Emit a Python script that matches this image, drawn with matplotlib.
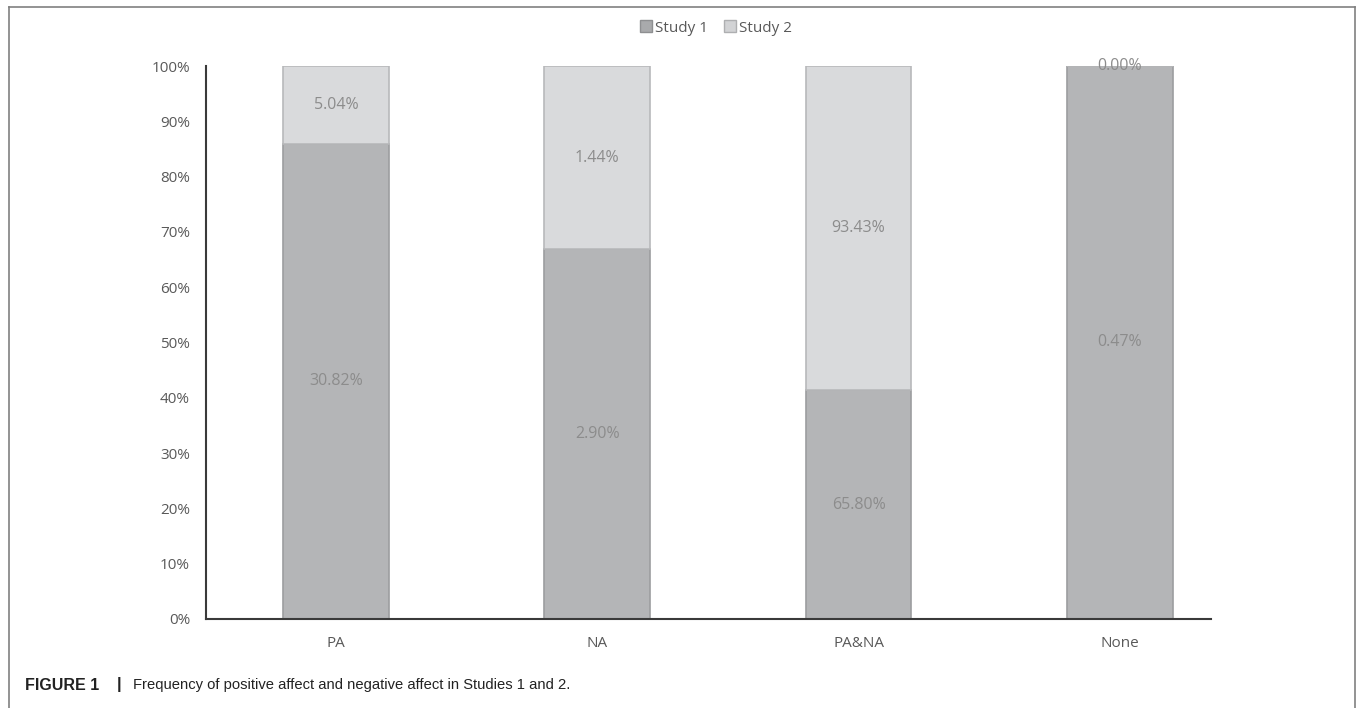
import matplotlib
matplotlib.use("Agg")
import matplotlib.pyplot as plt
import numpy as np
from matplotlib.patches import Rectangle
from matplotlib.lines import Line2D

#----------------- data
categories = ["PA", "NA", "PA&NA", "None"]
study1 = [30.82, 2.90, 65.80, 0.47]   # [%] labels shown in bars
study2 = [5.04, 1.44, 93.43, 0.00]
series_names = ["Study 1", "Study 2"]
yticks = [0, 10, 20, 30, 40, 50, 60, 70, 80, 90, 100]

#----------------- style
c1 = "#b4b5b7"
c2 = "#d9dadc"
edge = "#9c9d9f"
txt = "#8c8c8c"
tick_col = "#595959"
plt.rcParams['font.family'] = ['Open Sans', 'DejaVu Sans']

s1 = np.array(study1)
s2 = np.array(study2)
tot = s1 + s2
p1 = s1 / tot * 100
p2 = s2 / tot * 100
x = np.arange(len(categories))

fig = plt.figure(figsize=(13.57, 7.08), dpi=100)
ax = fig.add_axes([206/1357, 1-619/708, 1005/1357, 553/708])

w = 0.405
ax.bar(x, p1, w, color=c1, edgecolor=edge, linewidth=1.2, label=series_names[0])
ax.bar(x, p2, w, bottom=p1, color=c2, edgecolor="#b8b9bb", linewidth=1.2, label=series_names[1])

for i in range(len(categories)):
    ax.text(x[i], p1[i] / 2, "%.2f%%" % study1[i], ha="center", va="center",
            color=txt, fontsize=11.5)
    ax.text(x[i], p1[i] + p2[i] / 2 if p2[i] > 0 else 100, "%.2f%%" % study2[i],
            ha="center", va="center", color=txt, fontsize=11.5)

ax.set_xlim(-0.498, 3.349)
ax.set_ylim(0, 100)
ax.set_yticks(yticks)
ax.set_yticklabels(["%d%%" % t for t in yticks], color=tick_col, fontsize=11)
ax.set_xticks(x)
ax.set_xticklabels(categories, color=tick_col, fontsize=11)
ax.tick_params(axis="both", length=0)
ax.tick_params(axis="y", pad=11.5)
ax.tick_params(axis="x", pad=12)
for s in ["top", "right"]:
    ax.spines[s].set_visible(False)
ax.spines["left"].set_color("#3a3a3a")
ax.spines["bottom"].set_color("#3a3a3a")
ax.spines["left"].set_linewidth(1.5)
ax.spines["bottom"].set_linewidth(1.5)

# legend at top
handles = [Rectangle((0, 0), 1, 1, facecolor="#a9aaac", edgecolor="#8e8f91"),
           Rectangle((0, 0), 1, 1, facecolor="#d2d3d5", edgecolor="#aeafb1")]
fig.legend(handles, series_names, loc="center", bbox_to_anchor=(716/1357, 1-28/708),
           ncol=2, frameon=False, fontsize=11, handlelength=0.8, handleheight=0.8,
           handletextpad=0.2, columnspacing=1.0, labelcolor=tick_col)

# outer frame (open at the bottom)
fx0, fx1, fy1 = 9/1357, 1355/1357, 1-7/708
for xs, ys in [([fx0, fx0], [0, fy1]), ([fx0, fx1], [fy1, fy1]), ([fx1, fx1], [fy1, 0])]:
    fig.add_artist(Line2D(xs, ys, color="#808080", linewidth=1.2))

# caption
cap = ['Liberation Sans', 'DejaVu Sans']
yc = 1-685/708
fig.text(25/1357, yc, "FIGURE 1", family=cap, fontweight="bold", fontsize=11.5,
         va="center", color="#222222")
fig.text(117/1357, yc, "|", family=cap, fontweight="bold", fontsize=12,
         va="center", color="#222222")
fig.text(133/1357, yc, "Frequency of positive affect and negative affect in Studies 1 and 2.",
         family=cap, fontsize=10.6, va="center", color="#222222")

fig.savefig("out.png", dpi=100)
